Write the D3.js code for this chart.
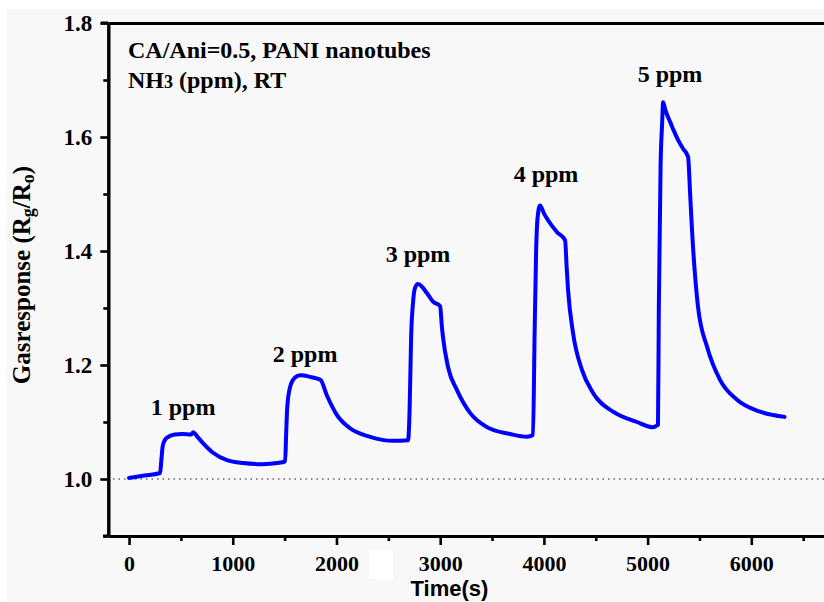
<!DOCTYPE html>
<html>
<head>
<meta charset="utf-8">
<script src="https://cdn.jsdelivr.net/npm/d3@7"></script>
<style>
  html, body { margin: 0; padding: 0; background: #ffffff; }
  svg { display: block; }
</style>
</head>
<body>
<svg id="chart" width="824" height="602"></svg>
<script>
// ---- data ----
const timeS = [0, 150, 300, 310, 325, 345, 370, 440, 510, 600, 618, 660, 713, 810, 945, 1100, 1290, 1430,
  1505, 1515, 1525, 1552, 1600, 1650, 1750, 1845, 1909, 2005, 2131, 2324, 2545, 2690,
  2705, 2720, 2738, 2757, 2786, 2873, 2931, 3000, 3015, 3027, 3076, 3162, 3288, 3451, 3673, 3837, 3895,
  3910, 3925, 3940, 3963, 4000, 4040, 4127, 4204, 4220, 4233, 4281, 4368, 4474, 4667, 4898, 5042, 5100,
  5108, 5125, 5139, 5150, 5170, 5190, 5216, 5250, 5293, 5340, 5390, 5410, 5428, 5486, 5573, 5698, 5862, 6084, 6320];
const response = [1.002, 1.006, 1.0105, 1.030, 1.058, 1.068, 1.073, 1.078, 1.079, 1.078, 1.082, 1.074, 1.063, 1.046, 1.033, 1.028, 1.026, 1.028,
  1.031, 1.080, 1.125, 1.161, 1.178, 1.182, 1.179, 1.174, 1.146, 1.112, 1.089, 1.074, 1.067, 1.068,
  1.120, 1.250, 1.309, 1.335, 1.342, 1.326, 1.311, 1.303, 1.270, 1.249, 1.196, 1.156, 1.116, 1.091, 1.079, 1.074, 1.077,
  1.250, 1.400, 1.460, 1.480, 1.466, 1.454, 1.433, 1.419, 1.370, 1.332, 1.256, 1.191, 1.151, 1.118, 1.100, 1.091, 1.095,
  1.300, 1.550, 1.620, 1.661, 1.648, 1.638, 1.627, 1.612, 1.595, 1.580, 1.565, 1.500, 1.437, 1.302, 1.232, 1.174, 1.139, 1.118, 1.109];

const xMajorTicks = [0, 1000, 2000, 3000, 4000, 5000, 6000];
const xMinorTicks = [500, 1500, 2500, 3500, 4500, 5500, 6500];
const yMajorTicks = [1.0, 1.2, 1.4, 1.6, 1.8];
const yMinorTicks = [0.9, 1.1, 1.3, 1.5, 1.7];

const ppmLabels = ["1 ppm", "2 ppm", "3 ppm", "4 ppm", "5 ppm"];
const ppmLabelTime = [521, 1697, 2786, 4020, 5216];
const ppmLabelResp = [1.112, 1.205, 1.380, 1.521, 1.696];

const baselineValue = 1.0;

// ---- layout ----
const svg = d3.select("#chart");
const serif = "'Liberation Serif', 'Times New Roman', serif";
const sans = "'Liberation Sans', Arial, sans-serif";

const x = d3.scaleLinear().domain([-200, 6800]).range([108.3, 834.3]);
const y = d3.scaleLinear().domain([0.9, 1.8]).range([536, 23]);

// background
svg.append("rect").attr("x", 7).attr("y", 9).attr("width", 817).attr("height", 593).attr("fill", "#f8f8f8");

// dotted reference line at 1.0
svg.append("line")
  .attr("x1", 113).attr("x2", 824)
  .attr("y1", y(baselineValue)).attr("y2", y(baselineValue))
  .attr("stroke", "#666").attr("stroke-width", 1.3)
  .attr("stroke-dasharray", "1.5,4");

// axes
function styleAxis(g, width) {
  g.select(".domain").attr("stroke", "#000").attr("stroke-width", width);
  g.selectAll(".tick line").attr("stroke", "#000").attr("stroke-width", 2.6);
}

const xAxisG = svg.append("g").attr("transform", `translate(0,${y(0.9)})`)
  .call(d3.axisBottom(x).tickValues(xMajorTicks).tickFormat(d3.format("d")).tickSize(9).tickSizeOuter(0));
styleAxis(xAxisG, 3);
xAxisG.selectAll("text").attr("dy", null).attr("y", 35)
  .attr("font-family", serif).attr("font-weight", "bold").attr("font-size", 22).attr("fill", "#000");
const xMinorG = svg.append("g").attr("transform", `translate(0,${y(0.9)})`)
  .call(d3.axisBottom(x).tickValues(xMinorTicks).tickFormat("").tickSize(5).tickSizeOuter(0));
styleAxis(xMinorG, 3);

const yAxisG = svg.append("g").attr("transform", `translate(${x(-200)},0)`)
  .call(d3.axisLeft(y).tickValues(yMajorTicks).tickFormat(d3.format(".1f")).tickSize(8).tickSizeOuter(0));
styleAxis(yAxisG, 3);
yAxisG.selectAll("text").attr("x", -16).attr("dy", "0.33em")
  .attr("font-family", serif).attr("font-weight", "bold").attr("font-size", 23).attr("fill", "#000");
const yMinorG = svg.append("g").attr("transform", `translate(${x(-200)},0)`)
  .call(d3.axisLeft(y).tickValues(yMinorTicks).tickFormat("").tickSize(5).tickSizeOuter(0));
styleAxis(yMinorG, 3);

// top frame line
const topG = svg.append("g").attr("transform", `translate(0,${y(1.8)})`)
  .call(d3.axisTop(x).tickValues([]).tickSizeOuter(0));
styleAxis(topG, 3);
// small overhangs at the corners
svg.append("line").attr("x1", 101).attr("x2", x(-200)).attr("y1", y(1.8)).attr("y2", y(1.8)).attr("stroke", "#000").attr("stroke-width", 3);
svg.append("line").attr("x1", 103).attr("x2", x(-200)).attr("y1", y(0.9)).attr("y2", y(0.9)).attr("stroke", "#000").attr("stroke-width", 3);

// white patch near x-axis
svg.append("rect").attr("x", 369).attr("y", 550).attr("width", 24).attr("height", 29).attr("fill", "#ffffff");

// data line
const pts = timeS.map((t, i) => [t, response[i]]);
svg.append("path")
  .datum(pts)
  .attr("fill", "none")
  .attr("stroke", "#0000ff")
  .attr("stroke-width", 4)
  .attr("stroke-linejoin", "round")
  .attr("stroke-linecap", "round")
  .attr("d", d3.line().x(d => x(d[0])).y(d => y(d[1])).curve(d3.curveMonotoneX));

// ppm labels
svg.append("g").selectAll("text").data(ppmLabels).join("text")
  .attr("x", (d, i) => x(ppmLabelTime[i]))
  .attr("y", (d, i) => y(ppmLabelResp[i]))
  .attr("text-anchor", "middle")
  .attr("font-family", serif).attr("font-weight", "bold").attr("font-size", 24)
  .attr("fill", "#000")
  .text(d => d);

// annotation block
svg.append("text").attr("x", 128).attr("y", 58)
  .attr("font-family", serif).attr("font-weight", "bold").attr("font-size", 24).attr("fill", "#000")
  .text("CA/Ani=0.5, PANI nanotubes");
const t2 = svg.append("text").attr("x", 128).attr("y", 88)
  .attr("font-family", serif).attr("font-weight", "bold").attr("font-size", 24).attr("fill", "#000");
t2.append("tspan").text("NH");
t2.append("tspan").attr("font-size", 18).text("3");
t2.append("tspan").text(" (ppm), RT");

// axis titles
svg.append("text").attr("x", 449.5).attr("y", 596)
  .attr("text-anchor", "middle")
  .attr("font-family", sans).attr("font-weight", "bold").attr("font-size", 22).attr("fill", "#000")
  .text("Time(s)");

const yl = svg.append("text")
  .attr("transform", "translate(30,275) rotate(-90)")
  .attr("text-anchor", "middle")
  .attr("font-family", serif).attr("font-weight", "bold").attr("font-size", 25).attr("fill", "#000");
yl.append("tspan").text("Gasresponse (R");
yl.append("tspan").attr("font-size", 18).attr("dy", 4).text("g");
yl.append("tspan").attr("dy", -4).text("/R");
yl.append("tspan").attr("font-size", 18).attr("dy", 4).text("o");
yl.append("tspan").attr("dy", -4).text(")");
</script>
</body>
</html>
